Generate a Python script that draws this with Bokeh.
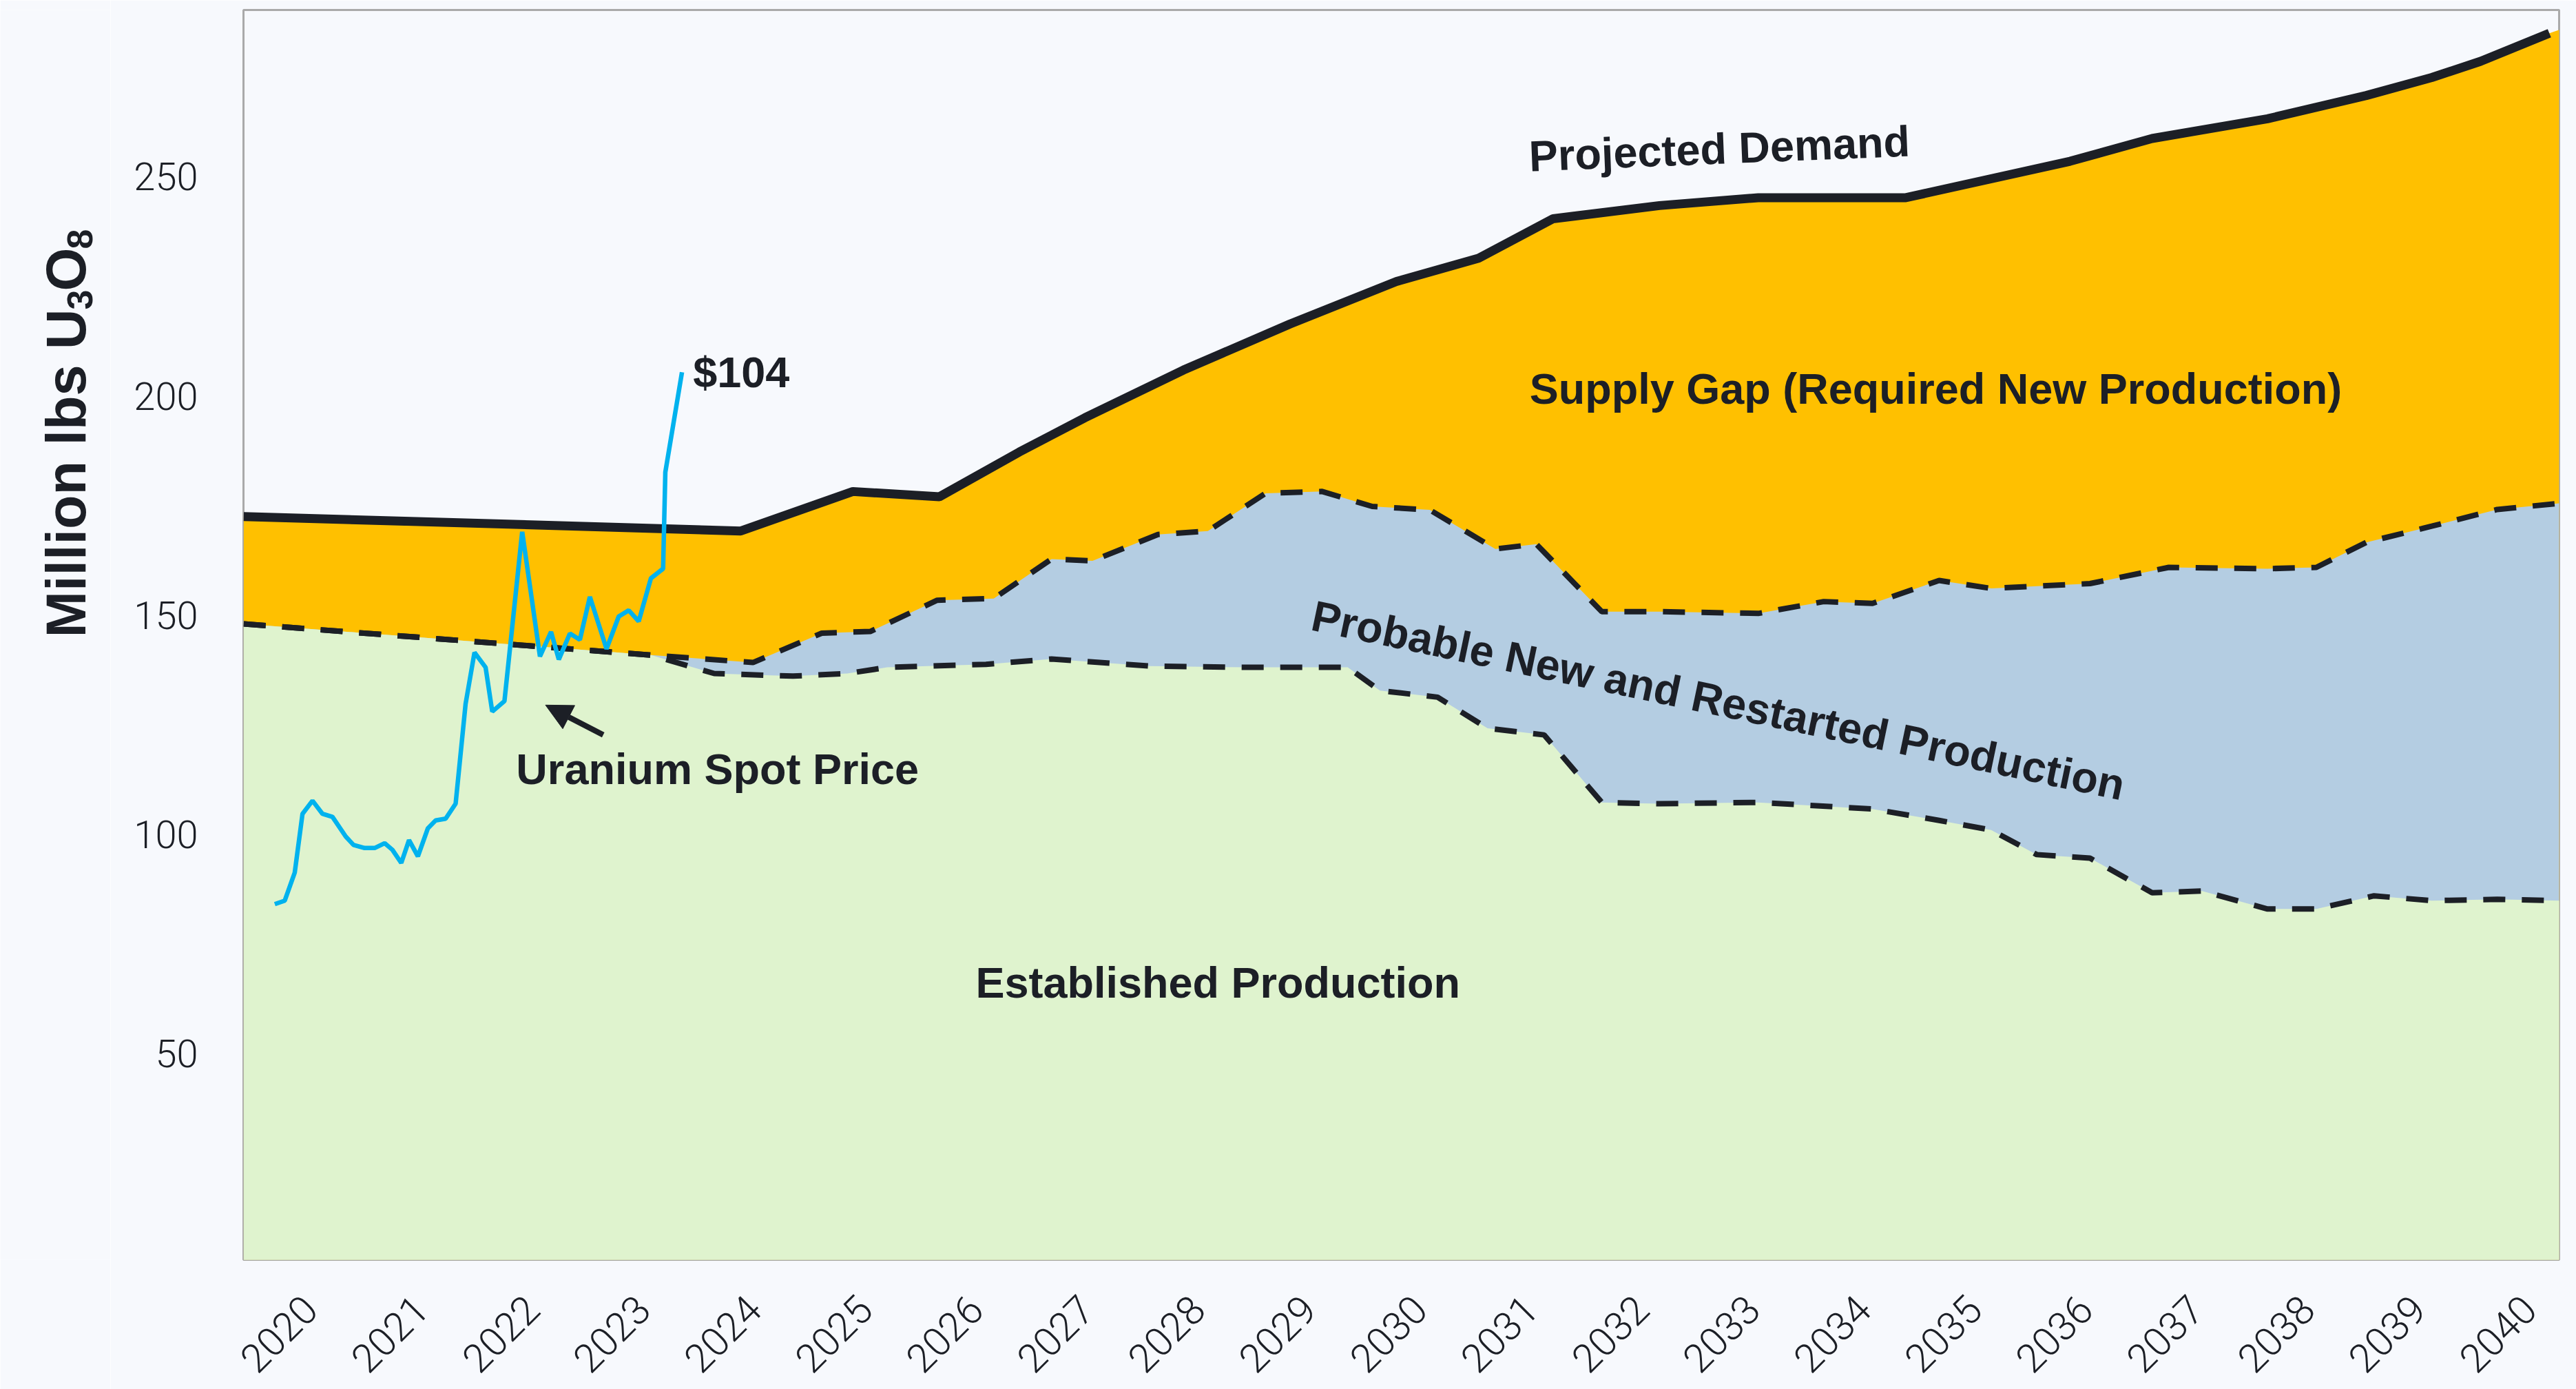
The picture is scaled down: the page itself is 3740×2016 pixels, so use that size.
import math
from bokeh.plotting import figure
from bokeh.layouts import row
from bokeh.models import Label, Arrow, NormalHead, FixedTicker, Range1d
from bokeh.core.properties import value
from bokeh.embed import file_html
from bokeh.resources import INLINE

# ---------------- data ----------------
tick_years = list(range(2020, 2041))

demand_x = [2019.40, 2023.88, 2024.89, 2025.67, 2026.39, 2026.98, 2027.87, 2028.83,
            2029.79, 2030.53, 2031.20, 2032.16, 2033.05, 2034.38, 2035.86, 2036.60,
            2037.64, 2038.53, 2039.12, 2039.56, 2040.18, 2040.27]
demand = [172.5, 169.2, 178.2, 177.0, 187.2, 195.0, 205.9, 216.4,
          226.1, 231.4, 240.4, 243.4, 245.2, 245.2, 253.5, 258.7,
          263.2, 268.5, 272.6, 276.3, 282.7, 283.5]

established_x = [2019.40, 2023.07, 2023.64, 2024.35, 2024.84, 2025.20, 2026.09, 2026.68,
                 2027.57, 2028.46, 2029.35, 2029.64, 2030.16, 2030.61, 2031.12, 2031.64,
                 2032.16, 2033.05, 2034.08, 2034.68, 2035.15, 2035.56, 2036.04, 2036.60,
                 2037.05, 2037.64, 2038.08, 2038.60, 2039.12, 2039.71, 2040.27]
established = [148.0, 140.9, 136.7, 136.1, 136.7, 138.1, 138.8, 140.0,
               138.4, 138.1, 138.1, 132.8, 131.3, 124.2, 122.7, 107.3,
               107.0, 107.3, 105.8, 103.2, 101.0, 95.4, 94.6, 86.7,
               87.1, 83.0, 83.0, 86.0, 84.9, 85.2, 84.9]

total_x = [2019.40, 2023.07, 2023.99, 2024.61, 2025.05, 2025.65, 2026.16, 2026.68,
           2027.05, 2027.64, 2028.09, 2028.61, 2029.12, 2029.57, 2030.09, 2030.68,
           2031.05, 2031.64, 2032.16, 2033.05, 2033.64, 2034.08, 2034.68, 2035.15,
           2036.04, 2036.75, 2037.64, 2038.08, 2038.53, 2039.12, 2039.71, 2040.27]
total_supply = [148.0, 140.9, 139.2, 145.9, 146.3, 153.4, 153.8, 162.8,
                162.4, 168.4, 169.2, 177.8, 178.2, 174.8, 174.0, 165.1,
                166.2, 150.8, 150.8, 150.4, 153.1, 152.7, 157.9, 156.1,
                157.2, 160.9, 160.6, 160.9, 166.6, 170.3, 174.1, 175.5]

spot_x = [2019.68, 2019.77, 2019.86, 2019.93, 2020.02, 2020.11, 2020.20, 2020.32,
          2020.39, 2020.49, 2020.58, 2020.67, 2020.74, 2020.82, 2020.89, 2020.97,
          2021.06, 2021.13, 2021.22, 2021.31, 2021.40, 2021.48, 2021.58, 2021.64,
          2021.75, 2021.91, 2022.07, 2022.17, 2022.24, 2022.34, 2022.43, 2022.52,
          2022.67, 2022.78, 2022.87, 2022.96, 2023.07, 2023.18, 2023.20, 2023.35]
spot = [84.1, 84.9, 91.3, 104.7, 107.7, 104.7, 104.0, 99.5,
        97.6, 96.9, 96.9, 98.0, 96.5, 93.5, 98.7, 95.0,
        101.4, 103.2, 103.6, 107.0, 129.8, 141.5, 138.1, 128.0,
        130.4, 169.0, 140.6, 146.2, 139.9, 145.8, 144.4, 154.2,
        142.3, 149.7, 151.1, 148.6, 158.4, 160.6, 182.6, 205.4]

# ---------------- layout / styling ----------------
W, H = 3740, 2016
TW = 160                                      # width of the strip holding the y title
FL, FR, FT, FB = 353, 3715, 14, 1828          # frame edges in page pixels
X0, X1 = 2019.398, 2040.268
Y0, Y1 = 3.0, 288.0

BG = "#F7F9FD"
INK = "#1C1F26"
YELLOW = "#FFC000"
BLUE = "#B4CDE2"
GREEN = "#DFF3CE"
SPOT = "#00B2EE"
ANN_FONT = "Liberation Sans"
TICK_FONT = "'Roboto Light', Roboto"

p = figure(width=W - TW, height=H, output_backend="svg", toolbar_location=None,
           x_range=Range1d(X0, X1), y_range=Range1d(Y0, Y1),
           min_border_left=FL - TW, min_border_right=W - FR, min_border_top=FT,
           min_border_bottom=H - FB, background_fill_color=BG, border_fill_color=BG)
p.outline_line_color = "#AAAAAA"
p.outline_line_width = 3
p.grid.visible = False

# stacked fills (drawn from the bottom, largest first)
p.varea(x=demand_x, y1=0, y2=demand, fill_color=YELLOW)
p.varea(x=total_x, y1=0, y2=total_supply, fill_color=BLUE)
p.varea(x=established_x, y1=0, y2=established, fill_color=GREEN)

p.line(total_x, total_supply, line_color=INK, line_width=8, line_dash="32 24")
p.line(established_x, established, line_color=INK, line_width=8, line_dash="32 24")
p.line(demand_x[:-1], demand[:-1], line_color=INK, line_width=13)
p.line(spot_x, spot, line_color=SPOT, line_width=6.5)

# axes
p.xaxis.ticker = FixedTicker(ticks=tick_years)
p.xaxis.major_label_orientation = math.pi / 4
p.xaxis.major_label_text_font = TICK_FONT
p.xaxis.major_label_text_font_size = "58px"
p.xaxis.major_label_text_color = INK
p.xaxis.major_label_standoff = 62
p.yaxis.ticker = FixedTicker(ticks=[50, 100, 150, 200, 250])
p.yaxis.major_label_text_font = TICK_FONT
p.yaxis.major_label_text_font_size = "56px"
p.yaxis.major_label_text_color = INK
p.yaxis.major_label_standoff = 66
for ax in (p.xaxis, p.yaxis):
    ax.axis_line_color = None
    ax.major_tick_line_color = None
    ax.minor_tick_line_color = None
    ax.major_tick_out = 0
    ax.major_tick_in = 0

def ann(x, y, text, angle=0.0, align="center"):
    p.add_layout(Label(x=x, y=y, text=text, angle=angle, text_align=align,
                       text_baseline="middle", text_font=ANN_FONT,
                       text_font_style="bold", text_font_size="63px",
                       text_color=INK))

ann(2032.70, 256.4, "Projected Demand", angle=0.04)
ann(2034.65, 201.7, "Supply Gap (Required New Production)")
ann(2032.69, 130.6, "Probable New and Restarted Production", angle=-0.207)
ann(2028.18, 66.2, "Established Production")
ann(2023.67, 114.9, "Uranium Spot Price")
ann(2023.45, 205.5, "$104", align="left")

p.add_layout(Arrow(x_start=2022.64, y_start=122.7, x_end=2022.12, y_end=129.5,
                   line_color=INK, line_width=8,
                   end=NormalHead(size=38, fill_color=INK, line_color=INK)))

# ---------------- y-axis title strip: "Million lbs U3O8" with subscripts ----------------
# The row layout aligns this strip's frame with the main frame (FT..FB), so the
# y range is chosen to make one data unit equal one page pixel (y = H - page_y).
t = figure(width=TW, height=H, output_backend="svg", toolbar_location=None,
           x_range=Range1d(0, TW), y_range=Range1d(H - FB, H - FT),
           x_axis_location=None, y_axis_location=None,
           min_border_left=0, min_border_right=0, min_border_top=FT,
           min_border_bottom=H - FB,
           background_fill_color=BG, border_fill_color=BG, outline_line_color=None)
t.grid.visible = False

MAIN, SUB = 81, 52
# (text, font px, baseline x, advance in em, extra kerning px)
parts = [("Million lbs U", MAIN, 95, 5.89, -1), ("3", SUB, 115, 0.556, -2),
         ("O", MAIN, 95, 0.778, -2), ("8", SUB, 115, 0.556, 0)]
y_cur = 925.0
for txt, size, base, em, kern in parts:
    t.text(x=[base], y=[H - y_cur], text=[txt], angle=math.pi / 2,
           text_align="left", text_baseline="alphabetic",
           text_font=value(ANN_FONT), text_font_style="bold",
           text_font_size=value("%dpx" % size), text_color=INK)
    y_cur -= em * size + kern

layout = row(t, p, spacing=0)
html = file_html(layout, INLINE)
html = html.replace("<body>", '<body style="background:%s">' % BG, 1)
open("out.html", "w").write(html)
